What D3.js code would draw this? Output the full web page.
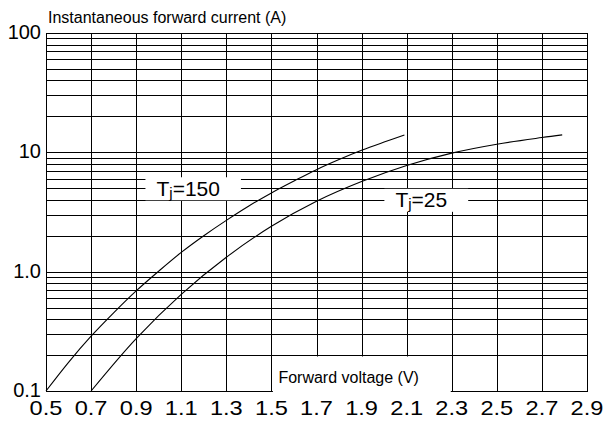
<!DOCTYPE html>
<html>
<head>
<meta charset="utf-8">
<script src="https://cdn.jsdelivr.net/npm/d3@7"></script>
<style>
  html, body { margin: 0; padding: 0; background: #fff; }
  svg { display: block; font-family: "Liberation Sans", Arial, Helvetica, sans-serif; }
</style>
</head>
<body>
<svg id="chart" width="609" height="421"></svg>
<script>
// ---- data ----
const xTickValues = [0.5, 0.7, 0.9, 1.1, 1.3, 1.5, 1.7, 1.9, 2.1, 2.3, 2.5, 2.7, 2.9];
const xTickLabels = ["0.5", "0.7", "0.9", "1.1", "1.3", "1.5", "1.7", "1.9", "2.1", "2.3", "2.5", "2.7", "2.9"];
const yTickValues = [0.1, 1, 10, 100];
const yTickLabels = ["0.1", "1.0", "10", "100"];

const voltage150 = [0.5, 0.6, 0.7, 0.8, 0.9, 1.0, 1.1, 1.2, 1.3, 1.4, 1.5, 1.6, 1.7, 1.8, 1.9, 2.0, 2.09];
const current150 = [0.1, 0.174, 0.288, 0.452, 0.69, 1.01, 1.45, 2.0, 2.69, 3.55, 4.57, 5.75, 7.16, 8.7, 10.4, 12.2, 14.0];

const voltage25 = [0.7, 0.9, 1.1, 1.3, 1.5, 1.7, 1.9, 2.1, 2.3, 2.5, 2.7, 2.79];
const current25 = [0.1, 0.275, 0.646, 1.32, 2.40, 3.89, 5.69, 7.76, 9.85, 11.7, 13.3, 14.0];

const curveLabels = [
  { main: "T", sub: "j", rest: "=150", v: 0.99, i: 5 },
  { main: "T", sub: "j", rest: "=25", v: 2.05, i: 4 }
];

const yTitle = "Instantaneous forward current (A)";
const xTitle = "Forward voltage (V)";

// ---- layout ----
const svg = d3.select("#chart");
const x = d3.scaleLinear().domain([0.5, 2.9]).range([46, 587]);
const y = d3.scaleLog().domain([0.1, 100]).range([391, 33]);

const grid = svg.append("g").attr("stroke", "#000").attr("stroke-width", 1)
  .attr("shape-rendering", "crispEdges");

// horizontal log grid (1..9 in each decade)
const minor = y.ticks();
grid.selectAll("line.h").data(minor).join("line")
  .attr("class", "h")
  .attr("x1", x(0.5)).attr("x2", x(2.9))
  .attr("y1", d => Math.round(y(d)) + 0.5).attr("y2", d => Math.round(y(d)) + 0.5);

// vertical grid
grid.selectAll("line.v").data(xTickValues).join("line")
  .attr("class", "v")
  .attr("x1", d => Math.round(x(d)) + 0.5).attr("x2", d => Math.round(x(d)) + 0.5)
  .attr("y1", y(100)).attr("y2", y(0.1) + 1);

// curves
const line = d3.line().x(d => x(d[0])).y(d => y(d[1])).curve(d3.curveCatmullRom.alpha(0.5));
const s150 = voltage150.map((v, i) => [v, current150[i]]);
const s25 = voltage25.map((v, i) => [v, current25[i]]);
svg.append("g").selectAll("path").data([s150, s25]).join("path")
  .attr("d", line).attr("fill", "none").attr("stroke", "#000").attr("stroke-width", 1.1);

// curve labels with white boxes
curveLabels.forEach(l => {
  const g = svg.append("g");
  const t = g.append("text")
    .attr("x", x(l.v)).attr("y", y(l.i)).attr("dy", "0.36em")
    .attr("font-size", 21).attr("fill", "#000");
  t.append("tspan").text(l.main);
  t.append("tspan").attr("font-size", 15).attr("dy", 2).text(l.sub);
  t.append("tspan").attr("font-size", 21).attr("dy", -2).text(l.rest);
  const bb = t.node().getBBox();
  g.insert("rect", "text")
    .attr("x", bb.x - 11).attr("y", y(l.i) - 11)
    .attr("width", bb.width + 32).attr("height", 23)
    .attr("fill", "#fff");
});

// x-axis title box (white patch over grid)
const xb = x(1.5) + 1.5, xe = x(2.3) - 1;
svg.append("rect")
  .attr("x", xb).attr("y", Math.round(y(0.2)) + 1.5)
  .attr("width", xe - xb).attr("height", y(0.1) - y(0.2) + 2)
  .attr("fill", "#fff");
svg.append("text")
  .attr("x", x(1.5) + 7).attr("y", 383)
  .attr("font-size", 16).attr("fill", "#000").text(xTitle);

// y title
svg.append("text").attr("x", 48).attr("y", 23)
  .attr("font-size", 16).attr("fill", "#000").text(yTitle);

// y tick labels
svg.append("g").selectAll("text").data(yTickValues).join("text")
  .attr("x", 41).attr("y", d => y(d)).attr("dy", "0.3em")
  .attr("text-anchor", "end").attr("font-size", 20).attr("fill", "#000")
  .text((d, i) => yTickLabels[i]);

// x tick labels (slightly wide glyphs as in the reference)
svg.append("g").selectAll("text").data(xTickValues).join("text")
  .attr("transform", d => `translate(${x(d)},415) scale(1.18,1)`)
  .attr("text-anchor", "middle").attr("font-size", 20).attr("fill", "#000")
  .text((d, i) => xTickLabels[i]);
</script>
</body>
</html>
